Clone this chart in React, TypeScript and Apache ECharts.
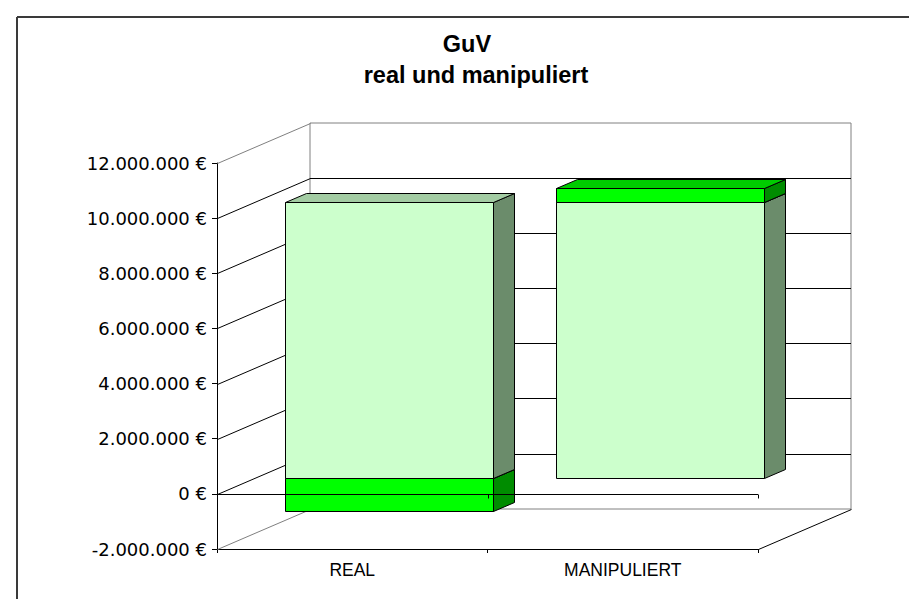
import React, { useEffect, useRef } from 'react';
import * as echarts from 'echarts';

// ---------- data ----------
const categories = ['REAL', 'MANIPULIERT'];
const baseValues = [10000000, 10000000]; // light green segment
const deltaValues = [-1200000, 500000]; // bright green segment
const yTicks = [-2000000, 0, 2000000, 4000000, 6000000, 8000000, 10000000, 12000000];
const yMin = -2000000;
const yMax = 12000000;
const yStep = 2000000;

// ---------- layout / style ----------
const FONT = "'Liberation Sans', Arial, sans-serif";
const LABEL_FONT = "'DejaVu Sans', 'Liberation Sans', Arial, sans-serif";
const FRONT = { left: 217, top: 163, width: 541, height: 386 };
const DEPTH = { dx: 93, dy: -40 };
const BAR_FRONT = { dx: 37, dy: -16 };
const BAR_SIDE = { dx: 21, dy: -9 };
const BAR_WIDTH_RATIO = 0.77;
const segStyles = [
  { front: '#CCFFCC', top: '#A3CCA3', side: '#6B8C6B' },
  { front: '#00FF00', top: '#00CC00', side: '#008C00' },
];

const fmt = (v: number) => {
  const s = Math.abs(Math.round(v)).toString().replace(/\B(?=(\d{3})+(?!\d))/g, '.');
  return (v < 0 ? '-' : '') + s + ' €';
};

function buildSegments() {
  const items: number[][] = [];
  const seriesList = [baseValues, deltaValues];
  categories.forEach((_, i) => {
    let pos = 0;
    let neg = 0;
    seriesList.forEach((vals, k) => {
      const v = vals[i];
      if (v >= 0) {
        items.push([i, pos, pos + v, k]);
        pos += v;
      } else {
        items.push([i, neg, neg + v, k]);
        neg += v;
      }
    });
  });
  // draw lower segments first so upper ones cover their top faces
  items.sort((a, b) => Math.min(a[1], a[2]) - Math.min(b[1], b[2]));
  return items;
}

const h = (n: number) => Math.round(n) + 0.5;

export default function App() {
  const ref = useRef<HTMLDivElement>(null);

  useEffect(() => {
    if (!ref.current) return;
    const chart = echarts.init(ref.current, undefined, { renderer: 'svg' });
    const segments = buildSegments();

    const option: any = {
      animation: false,
      backgroundColor: '#ffffff',
      textStyle: { fontFamily: FONT },
      graphic: [
        { type: 'line', shape: { x1: 17, y1: 17, x2: 909, y2: 17 }, style: { stroke: '#3a3a3a', lineWidth: 2 } },
        { type: 'line', shape: { x1: 17, y1: 17, x2: 17, y2: 599 }, style: { stroke: '#3a3a3a', lineWidth: 2 } },
        {
          type: 'text', x: 467, y: 44,
          style: { text: 'GuV', font: `bold 23.5px ${FONT}`, fill: '#000', textAlign: 'center', textVerticalAlign: 'middle' },
        },
        {
          type: 'text', x: 476, y: 75,
          style: { text: 'real und manipuliert', font: `bold 23.5px ${FONT}`, fill: '#000', textAlign: 'center', textVerticalAlign: 'middle' },
        },
      ],
      grid: [
        { left: FRONT.left, top: FRONT.top, width: FRONT.width, height: FRONT.height, show: false },
        {
          left: FRONT.left + DEPTH.dx, top: FRONT.top + DEPTH.dy, width: FRONT.width, height: FRONT.height,
          show: true, borderColor: '#808080', borderWidth: 1, backgroundColor: 'transparent',
        },
      ],
      xAxis: [
        {
          type: 'category', gridIndex: 0, data: categories, position: 'bottom',
          axisLine: { show: true, onZero: false, lineStyle: { color: '#000', width: 1 } },
          axisTick: { show: true, length: 4, lineStyle: { color: '#000' } },
          axisLabel: { color: '#000', fontSize: 17.5, fontFamily: FONT, margin: 12 },
          splitLine: { show: false },
        },
        { type: 'category', gridIndex: 1, data: categories, show: false },
      ],
      yAxis: [
        {
          type: 'value', gridIndex: 0, min: yMin, max: yMax, interval: yStep,
          axisLine: { show: true, lineStyle: { color: '#000', width: 1 } },
          axisTick: { show: true, length: 5, lineStyle: { color: '#000' } },
          axisLabel: { color: '#000', fontSize: 18, fontFamily: LABEL_FONT, margin: 10, formatter: (v: number) => fmt(v) },
          splitLine: { show: false },
        },
        {
          type: 'value', gridIndex: 1, min: yMin, max: yMax, interval: yStep,
          axisLine: { show: false }, axisTick: { show: false }, axisLabel: { show: false },
          splitLine: { show: true, showMinLine: false, showMaxLine: false, lineStyle: { color: '#000', width: 1 } },
        },
      ],
      series: [
        {
          type: 'custom', name: 'walls', xAxisIndex: 0, yAxisIndex: 0, z: 1,
          data: yTicks.map((v) => [0, v]),
          encode: { x: 0, y: 1 },
          silent: true,
          renderItem: (params: any, api: any) => {
            const v = api.value(1);
            const cs = params.coordSys;
            const y = api.coord([0, v])[1];
            const edge = v === yMin || v === yMax;
            const children: any[] = [
              {
                type: 'line',
                shape: { x1: h(cs.x), y1: h(y), x2: h(cs.x + DEPTH.dx), y2: h(y + DEPTH.dy) },
                style: { stroke: edge ? '#808080' : '#000', lineWidth: 1 },
              },
            ];
            if (v === yMin) {
              children.push({
                type: 'line',
                shape: { x1: h(cs.x + cs.width), y1: h(y), x2: h(cs.x + cs.width + DEPTH.dx), y2: h(y + DEPTH.dy) },
                style: { stroke: '#000', lineWidth: 1 },
              });
            }
            return { type: 'group', children };
          },
        },
        {
          type: 'custom', name: 'bars', xAxisIndex: 0, yAxisIndex: 0, z: 2,
          data: segments,
          encode: { x: 0, y: [1, 2] },
          renderItem: (params: any, api: any) => {
            const cat = api.value(0);
            const s = api.value(1);
            const e = api.value(2);
            const st = segStyles[api.value(3)];
            const p0 = api.coord([cat, s]);
            const p1 = api.coord([cat, e]);
            const w = api.size([1, 0])[0] * BAR_WIDTH_RATIO;
            const cx = p0[0] + BAR_FRONT.dx;
            const x0 = h(cx - w / 2);
            const x1 = h(cx + w / 2);
            const yt = h(Math.min(p0[1], p1[1]) + BAR_FRONT.dy);
            const yb = h(Math.max(p0[1], p1[1]) + BAR_FRONT.dy);
            const sx = BAR_SIDE.dx;
            const sy = BAR_SIDE.dy;
            const line = { stroke: '#000', lineWidth: 1, lineJoin: 'miter' };
            return {
              type: 'group',
              children: [
                { type: 'polygon', shape: { points: [[x1, yt], [x1 + sx, yt + sy], [x1 + sx, yb + sy], [x1, yb]] }, style: { fill: st.side, ...line } },
                { type: 'polygon', shape: { points: [[x0, yt], [x0 + sx, yt + sy], [x1 + sx, yt + sy], [x1, yt]] }, style: { fill: st.top, ...line } },
                { type: 'rect', shape: { x: x0, y: yt, width: x1 - x0, height: yb - yt }, style: { fill: st.front, ...line } },
              ],
            };
          },
        },
        {
          type: 'custom', name: 'zeroLine', xAxisIndex: 0, yAxisIndex: 0, z: 3,
          data: [[0, 0]],
          encode: { x: 0, y: 1 },
          silent: true,
          renderItem: (params: any, api: any) => {
            const cs = params.coordSys;
            const y = h(api.coord([0, 0])[1]);
            const children: any[] = [
              { type: 'line', shape: { x1: cs.x, y1: y, x2: cs.x + cs.width, y2: y }, style: { stroke: '#000', lineWidth: 1 } },
            ];
            for (let i = 1; i <= categories.length; i++) {
              const x = h(cs.x + (i * cs.width) / categories.length);
              children.push({ type: 'line', shape: { x1: x, y1: y, x2: x, y2: y + 4 }, style: { stroke: '#000', lineWidth: 1 } });
            }
            return { type: 'group', children };
          },
        },
      ],
    };

    chart.setOption(option);
    return () => chart.dispose();
  }, []);

  return <div ref={ref} style={{ position: 'fixed', left: 0, top: 0, width: 909, height: 599 }} />;
}
